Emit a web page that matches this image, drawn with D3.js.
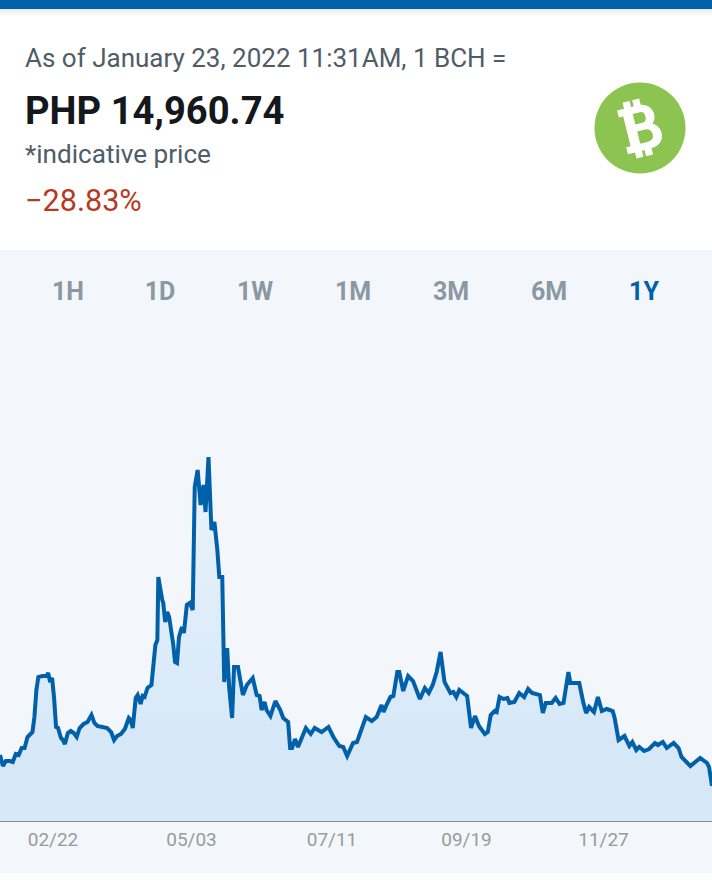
<!DOCTYPE html>
<html><head><meta charset="utf-8">
<script src="https://cdn.jsdelivr.net/npm/d3@7"></script>
<style>html,body{margin:0;padding:0;background:#fff}svg{display:block}text{font-family:Roboto,sans-serif}</style>
</head><body><svg id="c" width="712" height="884"></svg>
<script>
const dayOffsets=[0,1.5,3,5,6.5,8,9.5,11,12.5,14,16.5,17.5,18.5,19.5,21.5,23.5,24.5,25.5,26.5,27.5,28.5,29.5,31,32,33,34.5,36,37.5,39,40.5,42.5,44.5,46.5,48,49.5,52,54.5,56.5,58,59.5,61.5,63.5,65.5,66.5,67.5,69,70,71.5,72.5,73.5,75,77,78,79,80,80.5,82.5,83,84,85,86,87.5,88,89,90,91,92.5,93.5,95,96.5,98,99,100.5,102,103.5,104.5,106,107.5,109,110.5,111.5,113,114,115.5,116.5,118,119,121,123.5,125.5,128.5,130.5,132,133,134.5,135.5,137.5,140,142.5,144,146.5,147.5,148.5,150,151.5,155.5,158,160,163.5,167,169.5,172.5,174.5,176.5,179.5,181.5,186,189,191.5,194,195,196.5,198.5,200,202,203,205,207.5,210,213.5,216,218,220,222,224,226,229,230.5,232,233.5,237.5,239.5,241.5,243.5,246.5,248,249.5,251.5,252.5,254,256,258,259,261.5,264,266.5,268.5,270.5,274.5,276,277.5,280.5,282.5,284.5,286.5,289,290,294.5,296.5,298,299.5,302,304,306,308.5,311.5,312.5,314.5,317.5,320,321.5,323.5,325,327.5,330,333,334.5,337,339,342.5,345,346.5,351,356,359.5,360.5,362];
const prices=[21200,19000,20000,20000,19800,21400,21200,22600,22600,24800,25800,28800,34200,36800,37000,37000,37600,35800,36600,32600,26800,26600,24600,24200,23400,25600,26000,25600,24800,26600,27400,27800,29200,27600,27000,26800,26600,25800,24200,25000,25400,26400,28600,28200,26600,32600,33200,31400,33000,32800,34600,35200,39200,43200,44200,56800,52200,51600,47800,49800,48800,44800,43600,39800,39600,44800,46800,45600,51200,51600,50200,74800,78200,71200,75200,69800,80800,66200,67800,62200,56800,56800,35800,42600,34800,28600,38800,38800,33200,35200,36600,33200,33000,30200,31800,30200,29000,32000,30200,28600,27800,22600,22600,24400,22800,26600,25400,26600,25800,26800,24800,23000,22800,21000,23600,23800,28800,28000,28800,31200,29800,31200,32800,33000,37800,37800,34000,37000,36000,32400,34600,33600,35200,37800,41800,35800,33600,33800,32800,34200,33000,26600,29000,27000,25400,25800,29200,30000,29800,32800,32400,32600,31600,31800,33600,32800,34400,33600,33200,29600,31600,31600,32600,31400,31600,37800,35600,35600,31800,29600,30800,29800,32800,30000,30400,30000,28600,24200,25000,23000,23800,22200,22800,22000,22400,23600,23200,23800,22600,23600,22600,20800,19000,20600,19600,18800,15000];
const tickLabels=["02/22","05/03","07/11","09/19","11/27"];
const rangeLabels=["1H","1D","1W","1M","3M","6M","1Y"];
const activeRange="1Y";

const svg=d3.select("#c");
const H=884,W=712;
const defs=svg.append("defs");
const shadow=defs.append("linearGradient").attr("id","sh").attr("x1",0).attr("x2",0).attr("y1",0).attr("y2",1);
shadow.append("stop").attr("offset",0).attr("stop-color","#e4eef0");
shadow.append("stop").attr("offset",1).attr("stop-color","#ffffff");
const g1=defs.append("linearGradient").attr("id","af").attr("gradientUnits","userSpaceOnUse").attr("x1",0).attr("x2",0).attr("y1",456).attr("y2",740);
g1.append("stop").attr("offset",0).attr("stop-color","#eaf3fb");
g1.append("stop").attr("offset",1).attr("stop-color","#d6e8f8");

svg.append("rect").attr("width",W).attr("height",H).attr("fill","#fff");
svg.append("rect").attr("y",9).attr("width",W).attr("height",8).attr("fill","url(#sh)");
svg.append("rect").attr("width",W).attr("height",9).attr("fill","#0060a9");
svg.append("rect").attr("y",250).attr("width",W).attr("height",623).attr("fill","#f3f7fb");

const txt=(s,x,y,size,col,weight)=>svg.append("text").attr("x",x).attr("y",y).attr("font-size",size).attr("fill",col).attr("font-weight",weight||400).text(s);
txt("As of January 23, 2022 11:31AM, 1 BCH =",25,67,26,"#505c66");
txt("PHP 14,960.74",25,124,38.2,"#14181c",700);
txt("*indicative price",25,163,26.1,"#505c66");
txt("\u221228.83%",25,211,30.6,"#b83a1e");

// logo
const logo=svg.append("g").attr("transform","translate(640,128)");
logo.append("circle").attr("r",45.5).attr("fill","#8dc351");
logo.append("path").attr("transform","rotate(-14) scale(0.9) translate(-19,-30)").attr("fill","#fff").attr("stroke","#fff").attr("stroke-width",2).attr("fill-rule","evenodd")
 .attr("d","M8 6H0V12H5V48H0V54H8V61H14V54H19V61H25V54C36 54 40 47 40 41C40 35 36 30 31 29C35 27 37 23 37 19C37 12 32 7 25 6V-1H19V6H14V-1H8ZM14 12H23C27 12 29 15 29 19C29 23 27 26 23 26H14ZM14 32H24C29 32 32 36 32 40C32 45 29 48 24 48H14Z");

// range tabs
const tabCentres=d3.scaleOrdinal().domain(rangeLabels).range([68,160,255,353,451,549,644]);
svg.append("g").selectAll("text").data(rangeLabels).join("text")
 .attr("x",d=>tabCentres(d)).attr("y",300).attr("text-anchor","middle").attr("font-size",25).attr("font-weight",700)
 .attr("fill",d=>d===activeRange?"#0060a9":"#8b97a3").text(d=>d);

// chart
const x=d3.scaleLinear().domain([0,362]).range([0,W]);
const y=d3.scaleLinear().domain([8000,81000]).range([821,456]);
const pts=dayOffsets.map((d,i)=>[d,prices[i]]);
svg.append("path").attr("d",d3.area().x(d=>x(d[0])).y0(821).y1(d=>y(d[1]))(pts)).attr("fill","url(#af)");
svg.append("path").attr("d",d3.line().x(d=>x(d[0])).y(d=>y(d[1]))(pts)).attr("fill","none").attr("stroke","#0060a9").attr("stroke-width",4).attr("stroke-linejoin","miter").attr("stroke-miterlimit",2.5);

const xt=d3.scaleOrdinal().domain(tickLabels).range([52.5,191,331.5,466,603]);
const ax=svg.append("g").attr("transform","translate(0,821)").call(d3.axisBottom(xt).tickSize(0).tickPadding(12));
ax.select(".domain").remove();
ax.selectAll("text").attr("font-size",19).attr("font-family","Roboto,sans-serif").attr("fill","#9a9a9a");
svg.append("line").attr("x1",0).attr("x2",W).attr("y1",821.5).attr("y2",821.5).attr("stroke","#8c8c8c").attr("stroke-width",1);
</script></body></html>
